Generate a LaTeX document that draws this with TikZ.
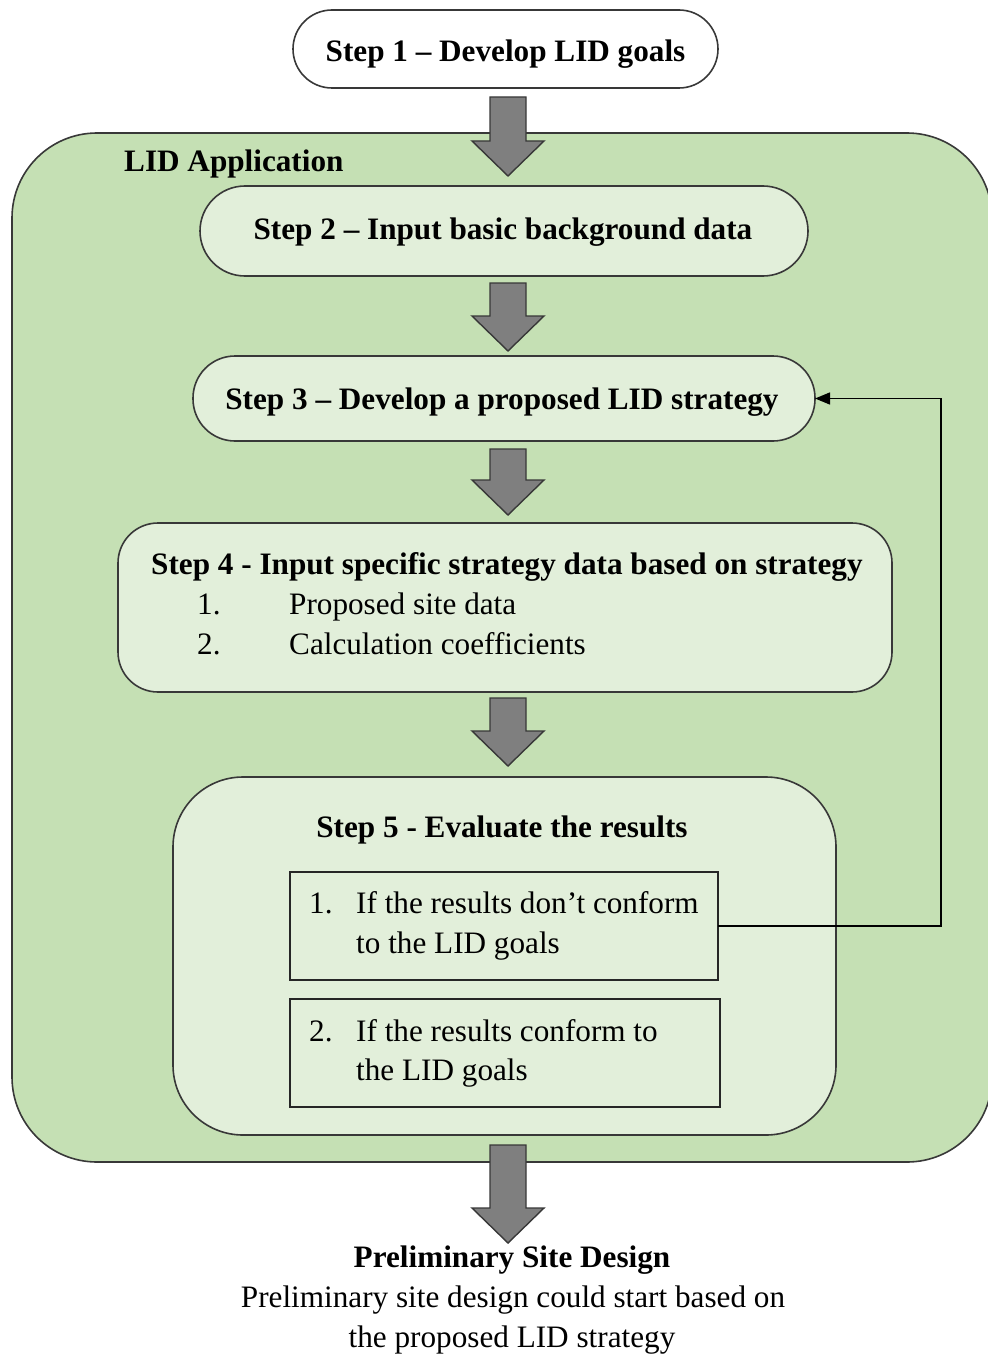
\documentclass[tikz,border=0pt]{standalone}
\usepackage{fontspec}
\setmainfont{Liberation Serif}
\usetikzlibrary{arrows.meta,calc}
\definecolor{outergreen}{HTML}{C5E0B4}
\definecolor{innergreen}{HTML}{E2EFDA}
\definecolor{arrowgray}{HTML}{7F7F7F}
\definecolor{edgegray}{HTML}{383838}
\newcommand\blockarr[2]{%
  \draw[bigarrow] let \p1=(#1), \p2=(#2) in
    ({\x1-18pt},\y1) -- ({\x1+18pt},\y1) -- ({\x1+18pt},{\y2+35pt}) -- ({\x1+36pt},{\y2+35pt})
    -- (\x1,\y2) -- ({\x1-36pt},{\y2+35pt}) -- ({\x1-18pt},{\y2+35pt}) -- cycle;}
\begin{document}
\begin{tikzpicture}[x=1pt,y=-1pt,
  box/.style={draw=edgegray,line width=1.6,inner sep=0,outer sep=0},
  stepbox/.style={box,fill=innergreen},
  subbox/.style={draw=black!85,line width=1.4,fill=innergreen,inner sep=0,outer sep=0},
  bigarrow/.style={draw=edgegray,fill=arrowgray,line width=1.4,line join=miter},
  lbl/.style={anchor=base,inner sep=0,font=\fontsize{31.2}{37}\selectfont},
  lblw/.style={lbl,anchor=base west},
  boldlbl/.style={lbl,font=\fontsize{31.2}{37}\selectfont\bfseries},
  boldlblw/.style={lblw,font=\fontsize{31.2}{37}\selectfont\bfseries},
  fb/.style={draw=black,line width=1.4,-{Triangle[length=15,width=12]}},
]
\useasboundingbox (0,0) rectangle (987,1356);

% outer container
\node[box,fill=outergreen,rounded corners=85,minimum width=980,minimum height=1029] (app) at (502,647.5) {};
\node[boldlblw] (applbl) at (124,172) {LID Application};

% step boxes
\node[box,fill=white,rounded corners=39,minimum width=425,minimum height=78] (s1) at (505.5,49) {};
\node[boldlbl] (t1) at (505.5,62) {Step 1 – Develop LID goals};

\node[stepbox,rounded corners=45,minimum width=608,minimum height=90] (s2) at (504,231) {};
\node[boldlbl] (t2) at (503,240) {Step 2 – Input basic background data};

\node[stepbox,rounded corners=42,minimum width=622,minimum height=85] (s3) at (504,398.5) {};
\node[boldlbl] (t3) at (502,409) {Step 3 – Develop a proposed LID strategy};

\node[stepbox,rounded corners=40,minimum width=774,minimum height=169] (s4) at (505,607.5) {};
\node[boldlblw] (t4) at (151,574) {Step 4 - Input specific strategy data based on strategy};
\node[lblw] (t4n1) at (197,614) {1.};
\node[lblw] (t4i1) at (289,614) {Proposed site data};
\node[lblw] (t4n2) at (197,654) {2.};
\node[lblw] (t4i2) at (289,654) {Calculation coefficients};

\node[stepbox,rounded corners=70,minimum width=663,minimum height=358] (s5) at (504.5,956) {};
\node[boldlbl] (t5) at (502,837) {Step 5 - Evaluate the results};

\node[subbox,minimum width=428,minimum height=108] (sub1) at (504,926) {};
\node[lblw] (sub1n) at (309,913) {1.};
\node[lblw] (sub1a) at (356,913) {If the results don’t conform};
\node[lblw] (sub1b) at (356,953) {to the LID goals};

\node[subbox,minimum width=430,minimum height=108] (sub2) at (505,1053) {};
\node[lblw] (sub2n) at (309,1041) {2.};
\node[lblw] (sub2a) at (356,1041) {If the results conform to};
\node[lblw] (sub2b) at (356,1080) {the LID goals};

% block arrow end points
\coordinate (a1top) at (508,97);   \coordinate (a1tip) at (508,176);
\coordinate (a2top) at (508,283);  \coordinate (a2tip) at (508,351);
\coordinate (a3top) at (508,449);  \coordinate (a3tip) at (508,515);
\coordinate (a4top) at (508,698);  \coordinate (a4tip) at (508,766);
\coordinate (a5top) at (508,1145); \coordinate (a5tip) at (508,1243);
\blockarr{a1top}{a1tip}
\blockarr{a2top}{a2tip}
\blockarr{a3top}{a3tip}
\blockarr{a4top}{a4tip}
\blockarr{a5top}{a5tip}

% feedback loop
\draw[fb] (sub1.east) -- ++(223,0) |- (s3.east);

% result
\node[boldlbl] (r1) at (512,1267) {Preliminary Site Design};
\node[lbl] (r2) at (513,1307) {Preliminary site design could start based on};
\node[lbl] (r3) at (512,1347) {the proposed LID strategy};
\end{tikzpicture}
\end{document}
